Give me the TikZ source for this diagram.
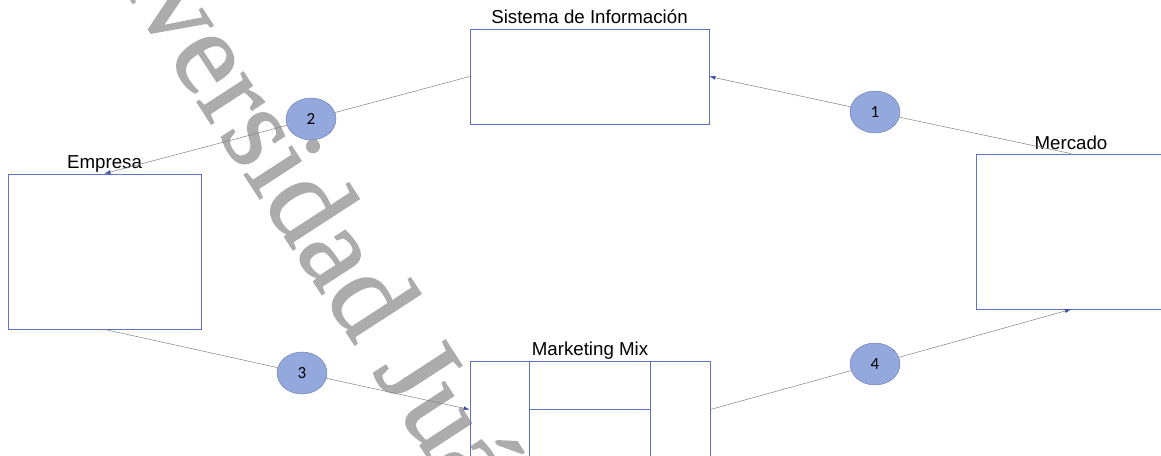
\documentclass[tikz,border=0pt]{standalone}
\usepackage{fontspec}
\setmainfont{Liberation Sans}
\newfontfamily\marcafont[FakeBold=1.2]{Liberation Serif}
\newfontfamily\numfont{Carlito}
\usetikzlibrary{arrows.meta,shapes.geometric,positioning}

\definecolor{borde}{RGB}{91,115,201}
\definecolor{relleno}{RGB}{147,169,222}
\definecolor{contorno}{RGB}{102,120,168}
\definecolor{flecha}{RGB}{59,79,160}
\definecolor{linea}{RGB}{128,128,128}
\definecolor{marca}{RGB}{172,172,172}

\begin{document}
\begin{tikzpicture}[x=1pt,y=-1pt,
    caja/.style={draw=borde, line width=0.8pt, rectangle, inner sep=0pt},
    lbl/.style={font=\fontsize{18.7}{20}\selectfont, anchor=base, inner sep=0pt},
    num/.style={ellipse, draw=contorno, fill=relleno, minimum width=50pt, minimum height=42pt, inner sep=0pt, font=\numfont\fontsize{17}{17}\selectfont},
    con/.style={draw=linea, line width=0.5pt},
    fl/.style={con, -{Latex[length=6pt,width=4pt,color=flecha]}}]
    \useasboundingbox (0,0) rectangle (1161,455);
    \clip (0,0) rectangle (1161,455);

    % marca de agua
    \node[text=marca, font=\marcafont\fontsize{120}{120}\selectfont, rotate=-57, anchor=base west, inner sep=0pt] (marca) at (36,-146) {Universidad Juárez};

    \node[caja, minimum width=239pt, minimum height=95pt] (sist) at (589.5,76.5) {};
    \node[caja, minimum width=193pt, minimum height=155pt] (emp) at (104.5,251.5) {};
    \node[caja, minimum width=190pt, minimum height=155pt] (merc) at (1071,231.5) {};
    \node[caja, minimum width=240pt, minimum height=97pt] (mm) at (590,409.5) {};
    \draw[borde, line width=0.8pt] ([xshift=60pt]mm.north west) -- ([xshift=60pt]mm.south west);
    \draw[borde, line width=0.8pt] ([xshift=-60pt]mm.north east) -- ([xshift=-60pt]mm.south east);
    \draw[borde, line width=0.8pt] ([xshift=-60pt]mm.center) -- ([xshift=60pt]mm.center);

    \node[lbl] (sistlbl) at ([yshift=5pt]sist.north) {Sistema de Información};
    \node[lbl] (emplbl) at ([yshift=5.5pt]emp.north) {Empresa};
    \node[lbl] (merclbl) at ([yshift=4.5pt]merc.north) {Mercado};
    \node[lbl] (mmlbl) at ([yshift=5.5pt]mm.north) {Marketing Mix};

    \node[num] (c1) at (875,112) {1};
    \node[num] (c2) at (311,119) {2};
    \node[num] (c3) at (302,373) {3};
    \node[num] (c4) at (875,364) {4};

    \draw[con] (merc.north) -- (c1);
    \draw[fl] (c1) -- (sist.east);
    \draw[con] (sist.west) -- (c2);
    \draw[fl] (c2) -- (emp.north);
    \draw[con] (emp.south) -- (c3);
    \draw[fl] (c3) -- (mm.west);
    \draw[con] (mm.east) -- (c4);
    \draw[fl] (c4) -- (merc.south);
\end{tikzpicture}
\end{document}
